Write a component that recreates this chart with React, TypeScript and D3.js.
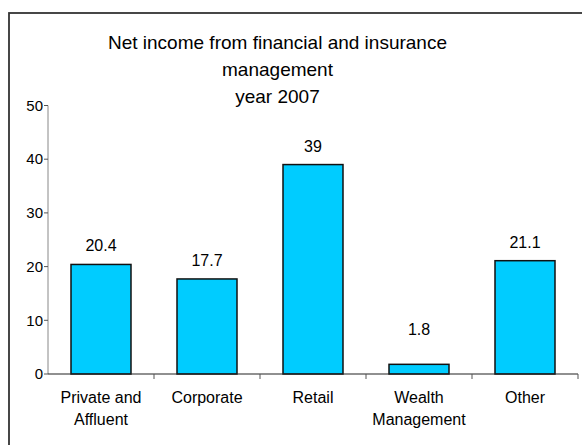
import React from "react";
import * as d3 from "d3";

const categories: string[][] = [
  ["Private and", "Affluent"],
  ["Corporate"],
  ["Retail"],
  ["Wealth", "Management"],
  ["Other"],
];
const values: number[] = [20.4, 17.7, 39, 1.8, 21.1];
const valueLabels: string[] = ["20.4", "17.7", "39", "1.8", "21.1"];
const yTicks: number[] = [0, 10, 20, 30, 40, 50];
const titleLines: string[] = [
  "Net income from financial and insurance",
  "management",
  "year 2007",
];

const W = 582;
const H = 445;
const left = 48;
const right = 578;
const top = 105.5;
const bottom = 374;

export default function App() {
  const keys = categories.map((_, i) => String(i));
  const x = d3
    .scaleBand<string>()
    .domain(keys)
    .range([left, right])
    .paddingInner(0.434)
    .paddingOuter(0.217);
  const xTick = d3.scaleBand<string>().domain(keys).range([left, right]).padding(0);
  const y = d3.scaleLinear().domain([0, 50]).range([bottom, top]);
  const font = "Arial, 'Liberation Sans', sans-serif";

  return (
    <svg
      width={W}
      height={H}
      style={{ position: "absolute", left: 0, top: 0, display: "block", background: "#fff" }}
      fontFamily={font}
    >
      <rect x={0} y={0} width={W} height={H} fill="#fff" />
      <rect x={9} y={13} width={700} height={600} fill="none" stroke="#333" strokeWidth={1.8} />
      {titleLines.map((t, i) => (
        <text key={i} x={277.5} y={49 + i * 27} textAnchor="middle" fontSize={19} fill="#000">
          {t}
        </text>
      ))}
      {/* y axis */}
      <line x1={left} x2={left} y1={y(50)} y2={y(0)} stroke="#888" strokeWidth={1} />
      {yTicks.map((t) => (
        <g key={t}>
          <line x1={left - 4} x2={left} y1={y(t)} y2={y(t)} stroke="#555" strokeWidth={1} />
          <text x={left - 5} y={y(t)} dy="0.35em" textAnchor="end" fontSize={15} fill="#000">
            {t}
          </text>
        </g>
      ))}
      {/* bars */}
      {values.map((v, i) => (
        <g key={i}>
          <rect
            x={x(String(i))}
            y={y(v)}
            width={x.bandwidth()}
            height={y(0) - y(v)}
            fill="#00CCFF"
            stroke="#111"
            strokeWidth={1.5}
          />
          <text
            x={(x(String(i)) as number) + x.bandwidth() / 2}
            y={Math.min(y(v) - 13, y(0) - 39)}
            textAnchor="middle"
            fontSize={16}
            fill="#000"
          >
            {valueLabels[i]}
          </text>
        </g>
      ))}
      {/* x axis */}
      <line x1={left} x2={right} y1={y(0)} y2={y(0)} stroke="#222" strokeWidth={1.2} />
      {keys.map((k) => (
        <line
          key={k}
          x1={(xTick(k) as number) + xTick.bandwidth()}
          x2={(xTick(k) as number) + xTick.bandwidth()}
          y1={y(0)}
          y2={y(0) + 5}
          stroke="#555"
          strokeWidth={1}
        />
      ))}
      {categories.map((lines, i) => (
        <text
          key={i}
          x={(xTick(String(i)) as number) + xTick.bandwidth() / 2}
          y={403}
          textAnchor="middle"
          fontSize={16}
          fill="#000"
        >
          {lines.map((l, j) => (
            <tspan key={j} x={(xTick(String(i)) as number) + xTick.bandwidth() / 2} dy={j === 0 ? 0 : 21.5}>
              {l}
            </tspan>
          ))}
        </text>
      ))}
    </svg>
  );
}
